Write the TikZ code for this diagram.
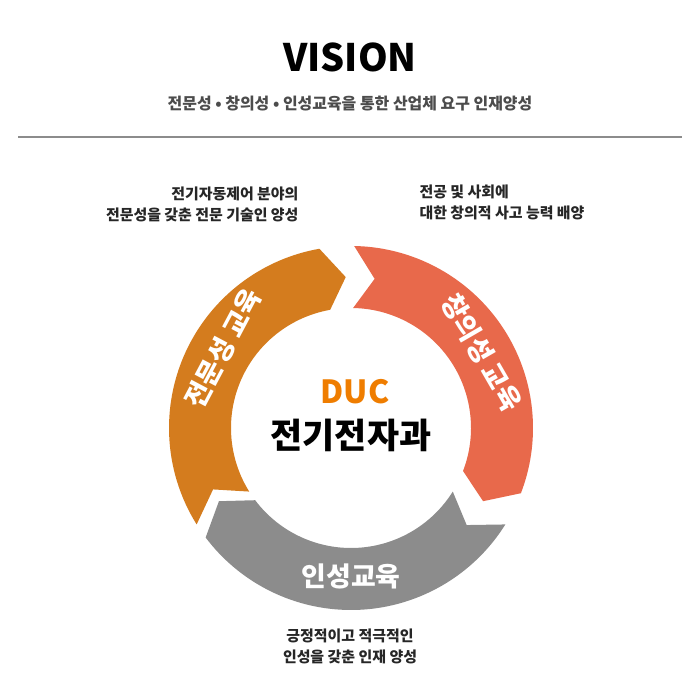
\documentclass[tikz,border=0pt]{standalone}
\usepackage{fontspec}
\setmainfont{Noto Sans CJK KR}
\usetikzlibrary{calc}
\definecolor{segorange}{HTML}{D47C1E}
\definecolor{segred}{HTML}{E8694B}
\definecolor{seggray}{HTML}{8C8C8C}
\definecolor{ducorange}{HTML}{EF7D00}

% ring segment: tail angle, tip angle, colour
\newcommand{\ringseg}[3]{%
  \fill[#3] ($(c)+(#1:182)$) arc[start angle=#1, end angle=#2+8, radius=182]
    -- ($(c)+(#2:151)$) -- ($(c)+(#2+8:120)$)
    arc[start angle=#2+8, end angle=#1, radius=120]
    -- ($(c)+(#1-8:151)$) -- cycle;}

\begin{document}
\begin{tikzpicture}[x=1bp,y=1bp,
	note/.style = {font=\fontsize{15}{21}\selectfont\bfseries, text=black!85},
	seglabel/.style = {font=\fontsize{27}{27}\selectfont\bfseries, text=white}
	]
	\useasboundingbox (0,0) rectangle (700,700);
	
	% Header
	\node[font=\fontsize{38}{38}\selectfont\bfseries] (vision) at (350,643) {VISION};
	\node[font=\fontsize{16}{16}\selectfont\bfseries, text=black!70] (sub) at (350,596)
		{전문성 • 창의성 • 인성교육을 통한 산업체 요구 인재양성};
	\draw[black!45, line width=2pt] (18,563) -- (682,563);
	
	% Ring
	\coordinate (c) at (351,272);
	\ringseg{212}{92}{segorange}
	\ringseg{89}{-29}{segred}
	\ringseg{-32}{-151}{seggray}
	
	% Ring labels
	\node[seglabel, rotate=62] (pro) at ($(c)+(148:151)$) {전문성 교육};
	\node[seglabel, rotate=-60] (cre) at ($(c)+(30:151)$) {창의성 교육};
	\node[seglabel] (per) at ($(c)+(270:148)$) {인성교육};
	
	% Centre
	\node[font=\fontsize{32}{32}\selectfont\bfseries\itshape, text=ducorange] (duc) at (355,308) {DUC};
	\node[font=\fontsize{35}{35}\selectfont\bfseries] (dept) at (351,265) {전기전자과};
	
	% Notes
	\node[note, align=right, anchor=east] (n1) at (302,496) {전기자동제어 분야의\\전문성을 갖춘 전문 기술인 양성};
	\node[note, align=left, anchor=west] (n2) at (416,498) {전공 및 사회에\\대한 창의적 사고 능력 배양};
	\node[note, align=center] (n3) at (350,54) {긍정적이고 적극적인\\인성을 갖춘 인재 양성};
\end{tikzpicture}
\end{document}
